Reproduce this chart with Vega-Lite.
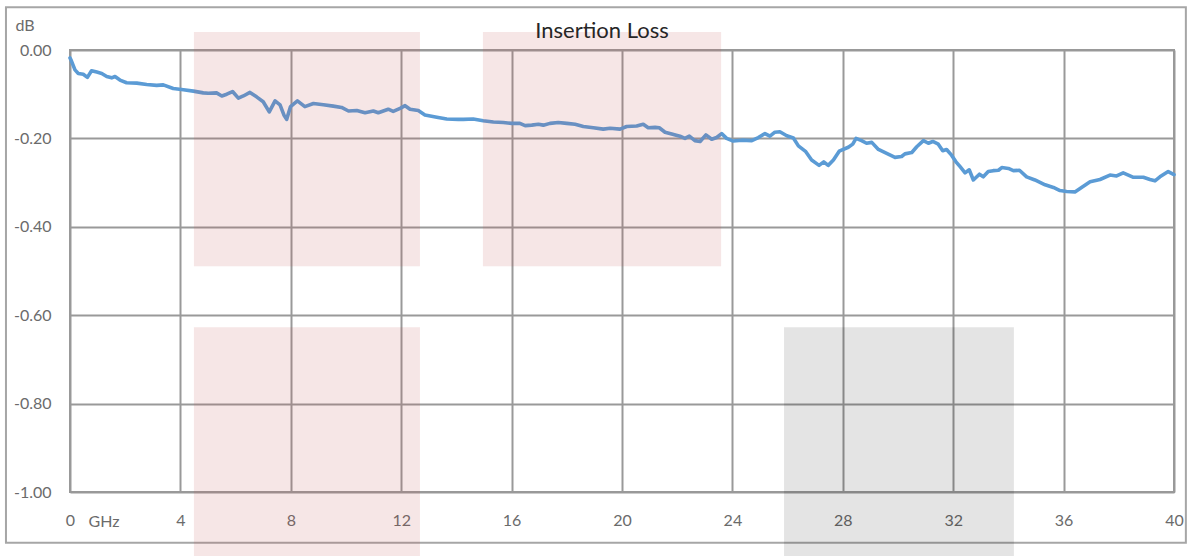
{
  "$schema": "https://vega.github.io/schema/vega-lite/v6.json",
  "autosize": {"type": "none"},
  "width": 1104,
  "height": 442,
  "padding": {"left": 70, "top": 50, "right": 20, "bottom": 64},
  "background": "white",
  "config": {"view": {"stroke": "#999999", "strokeWidth": 2}, "font": "Lato"},
  "title": {"text": "Insertion Loss", "fontSize": 22, "font": "Lato", "fontWeight": "normal", "color": "#262626", "anchor": "middle", "dx": -20, "offset": -37},
  "datasets": {
    "curve": [
      {"f": 0.0, "db": -0.018}, {"f": 0.04, "db": -0.023}, {"f": 0.18, "db": -0.045}, {"f": 0.30, "db": -0.053}, {"f": 0.48, "db": -0.055}, {"f": 0.63, "db": -0.062}, {"f": 0.78, "db": -0.047}, {"f": 0.97, "db": -0.050}, {"f": 1.15, "db": -0.053}, {"f": 1.33, "db": -0.060}, {"f": 1.51, "db": -0.063}, {"f": 1.63, "db": -0.060}, {"f": 1.81, "db": -0.068}, {"f": 2.05, "db": -0.074}, {"f": 2.42, "db": -0.075}, {"f": 2.78, "db": -0.078}, {"f": 3.14, "db": -0.080}, {"f": 3.38, "db": -0.079}, {"f": 3.74, "db": -0.087}, {"f": 4.11, "db": -0.090}, {"f": 4.47, "db": -0.093}, {"f": 4.83, "db": -0.097}, {"f": 5.01, "db": -0.098}, {"f": 5.31, "db": -0.097}, {"f": 5.50, "db": -0.104}, {"f": 5.68, "db": -0.100}, {"f": 5.89, "db": -0.094}, {"f": 6.10, "db": -0.109}, {"f": 6.28, "db": -0.104}, {"f": 6.52, "db": -0.096}, {"f": 6.76, "db": -0.106}, {"f": 7.00, "db": -0.117}, {"f": 7.22, "db": -0.140}, {"f": 7.43, "db": -0.115}, {"f": 7.61, "db": -0.124}, {"f": 7.75, "db": -0.147}, {"f": 7.85, "db": -0.157}, {"f": 7.99, "db": -0.128}, {"f": 8.24, "db": -0.115}, {"f": 8.51, "db": -0.128}, {"f": 8.82, "db": -0.121}, {"f": 9.18, "db": -0.124}, {"f": 9.54, "db": -0.127}, {"f": 9.84, "db": -0.130}, {"f": 10.09, "db": -0.138}, {"f": 10.39, "db": -0.137}, {"f": 10.69, "db": -0.142}, {"f": 10.99, "db": -0.138}, {"f": 11.17, "db": -0.142}, {"f": 11.53, "db": -0.134}, {"f": 11.71, "db": -0.139}, {"f": 11.96, "db": -0.132}, {"f": 12.14, "db": -0.126}, {"f": 12.32, "db": -0.134}, {"f": 12.62, "db": -0.137}, {"f": 12.86, "db": -0.147}, {"f": 13.29, "db": -0.152}, {"f": 13.65, "db": -0.156}, {"f": 14.07, "db": -0.157}, {"f": 14.25, "db": -0.157}, {"f": 14.61, "db": -0.156}, {"f": 14.97, "db": -0.160}, {"f": 15.34, "db": -0.163}, {"f": 15.70, "db": -0.164}, {"f": 16.00, "db": -0.166}, {"f": 16.30, "db": -0.166}, {"f": 16.49, "db": -0.171}, {"f": 16.73, "db": -0.170}, {"f": 16.97, "db": -0.168}, {"f": 17.15, "db": -0.170}, {"f": 17.39, "db": -0.166}, {"f": 17.69, "db": -0.164}, {"f": 18.00, "db": -0.166}, {"f": 18.30, "db": -0.168}, {"f": 18.60, "db": -0.173}, {"f": 18.96, "db": -0.176}, {"f": 19.32, "db": -0.179}, {"f": 19.57, "db": -0.177}, {"f": 19.93, "db": -0.179}, {"f": 20.17, "db": -0.173}, {"f": 20.53, "db": -0.172}, {"f": 20.77, "db": -0.168}, {"f": 20.95, "db": -0.176}, {"f": 21.20, "db": -0.175}, {"f": 21.35, "db": -0.176}, {"f": 21.56, "db": -0.186}, {"f": 21.80, "db": -0.190}, {"f": 22.10, "db": -0.195}, {"f": 22.28, "db": -0.200}, {"f": 22.44, "db": -0.195}, {"f": 22.64, "db": -0.205}, {"f": 22.83, "db": -0.207}, {"f": 23.04, "db": -0.192}, {"f": 23.25, "db": -0.202}, {"f": 23.43, "db": -0.198}, {"f": 23.61, "db": -0.189}, {"f": 23.79, "db": -0.200}, {"f": 24.03, "db": -0.206}, {"f": 24.34, "db": -0.204}, {"f": 24.70, "db": -0.205}, {"f": 24.94, "db": -0.198}, {"f": 25.18, "db": -0.189}, {"f": 25.36, "db": -0.195}, {"f": 25.54, "db": -0.186}, {"f": 25.72, "db": -0.185}, {"f": 25.97, "db": -0.194}, {"f": 26.21, "db": -0.199}, {"f": 26.39, "db": -0.217}, {"f": 26.66, "db": -0.230}, {"f": 26.87, "db": -0.249}, {"f": 27.14, "db": -0.261}, {"f": 27.31, "db": -0.253}, {"f": 27.47, "db": -0.261}, {"f": 27.66, "db": -0.249}, {"f": 27.87, "db": -0.229}, {"f": 28.20, "db": -0.220}, {"f": 28.36, "db": -0.213}, {"f": 28.48, "db": -0.200}, {"f": 28.68, "db": -0.205}, {"f": 28.86, "db": -0.211}, {"f": 29.05, "db": -0.209}, {"f": 29.29, "db": -0.225}, {"f": 29.59, "db": -0.234}, {"f": 29.89, "db": -0.243}, {"f": 30.13, "db": -0.241}, {"f": 30.25, "db": -0.235}, {"f": 30.50, "db": -0.232}, {"f": 30.68, "db": -0.219}, {"f": 30.92, "db": -0.205}, {"f": 31.10, "db": -0.211}, {"f": 31.26, "db": -0.207}, {"f": 31.46, "db": -0.213}, {"f": 31.62, "db": -0.228}, {"f": 31.76, "db": -0.225}, {"f": 31.94, "db": -0.238}, {"f": 32.10, "db": -0.253}, {"f": 32.25, "db": -0.264}, {"f": 32.43, "db": -0.278}, {"f": 32.58, "db": -0.271}, {"f": 32.73, "db": -0.294}, {"f": 32.95, "db": -0.281}, {"f": 33.09, "db": -0.287}, {"f": 33.27, "db": -0.275}, {"f": 33.45, "db": -0.273}, {"f": 33.64, "db": -0.272}, {"f": 33.76, "db": -0.266}, {"f": 34.00, "db": -0.268}, {"f": 34.18, "db": -0.273}, {"f": 34.40, "db": -0.272}, {"f": 34.66, "db": -0.287}, {"f": 34.96, "db": -0.294}, {"f": 35.33, "db": -0.305}, {"f": 35.63, "db": -0.311}, {"f": 35.87, "db": -0.318}, {"f": 36.11, "db": -0.320}, {"f": 36.41, "db": -0.321}, {"f": 36.65, "db": -0.311}, {"f": 36.96, "db": -0.298}, {"f": 37.32, "db": -0.293}, {"f": 37.68, "db": -0.283}, {"f": 37.92, "db": -0.285}, {"f": 38.16, "db": -0.278}, {"f": 38.53, "db": -0.288}, {"f": 38.89, "db": -0.288}, {"f": 39.13, "db": -0.293}, {"f": 39.31, "db": -0.296}, {"f": 39.49, "db": -0.287}, {"f": 39.79, "db": -0.275}, {"f": 40.0, "db": -0.282}
    ],
    "zones": [
      {"x1": 4.49, "x2": 12.68, "y1": 0.041, "y2": -0.489, "kind": "pink"},
      {"x1": 14.96, "x2": 23.59, "y1": 0.041, "y2": -0.489, "kind": "pink"},
      {"x1": 4.49, "x2": 12.68, "y1": -0.627, "y2": -1.2, "kind": "pink"},
      {"x1": 25.87, "x2": 34.2, "y1": -0.627, "y2": -1.2, "kind": "grey"}
    ],
    "frame": [
      {"x1": -2.32, "x2": 40.43, "y1": 0.097, "y2": -1.115}
    ]
  },
  "layer": [
    {
      "data": {"name": "frame"},
      "mark": {"type": "rect", "fill": null, "fillOpacity": 0, "stroke": "#a6a6a6", "strokeWidth": 2, "clip": false},
      "encoding": {
        "x": {"field": "x1", "type": "quantitative", "scale": {"domain": [0, 40], "nice": false, "zero": false},
          "axis": {"values": [0, 4, 8, 12, 16, 20, 24, 28, 32, 36, 40], "grid": true, "gridColor": "#999999", "gridWidth": 2, "domain": false, "ticks": false,
            "labelFont": "Lato", "labelFontSize": 16, "labelColor": "#6b6b6b", "labelPadding": 20, "labelFlush": false,
            "title": "GHz", "titleFont": "Lato", "titleFontSize": 16, "titleFontWeight": "normal", "titleColor": "#6b6b6b", "titleX": 18, "titleY": 29, "titleAlign": "left", "titleBaseline": "middle"}},
        "x2": {"field": "x2"},
        "y": {"field": "y1", "type": "quantitative", "scale": {"domain": [-1, 0], "nice": false, "zero": false},
          "axis": {"values": [0, -0.2, -0.4, -0.6, -0.8, -1], "labelExpr": "replace(format(datum.value, '.2f'), '\u2212', '-')", "grid": true, "gridColor": "#999999", "gridWidth": 2, "domain": false, "ticks": false,
            "labelFont": "Lato", "labelFontSize": 16, "labelColor": "#6b6b6b", "labelPadding": 19, "labelFlush": false,
            "title": "dB", "titleFont": "Lato", "titleFontSize": 16, "titleFontWeight": "normal", "titleColor": "#6b6b6b", "titleAngle": 0, "titleX": -55, "titleY": -25, "titleAlign": "left", "titleBaseline": "middle"}},
        "y2": {"field": "y2"}
      }
    },
    {
      "data": {"name": "curve"},
      "mark": {"type": "line", "color": "#5b9bd5", "strokeWidth": 3.6, "strokeJoin": "round", "strokeCap": "round"},
      "encoding": {
        "x": {"field": "f", "type": "quantitative"},
        "y": {"field": "db", "type": "quantitative"}
      }
    },
    {
      "data": {"name": "zones"},
      "mark": {"type": "rect", "clip": false},
      "encoding": {
        "x": {"field": "x1", "type": "quantitative"},
        "x2": {"field": "x2"},
        "y": {"field": "y1", "type": "quantitative"},
        "y2": {"field": "y2"},
        "color": {"field": "kind", "type": "nominal", "scale": {"domain": ["pink", "grey"], "range": ["#c0504d", "#000000"]}, "legend": null},
        "opacity": {"field": "kind", "type": "nominal", "scale": {"domain": ["pink", "grey"], "range": [0.14, 0.105]}, "legend": null}
      }
    }
  ]
}
